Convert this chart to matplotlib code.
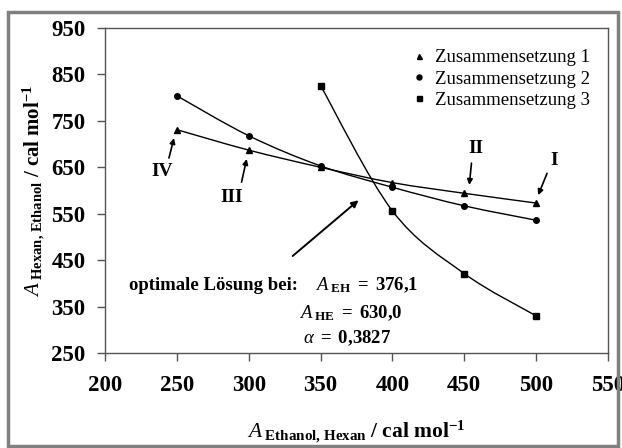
import numpy as np
import matplotlib
matplotlib.use('Agg')
import matplotlib.pyplot as plt
from matplotlib.path import Path
from matplotlib.patches import PathPatch, Rectangle

plt.rcParams['font.family'] = 'Liberation Serif'
plt.rcParams['mathtext.fontset'] = 'custom'
plt.rcParams['mathtext.rm'] = 'Liberation Serif:bold'
plt.rcParams['mathtext.bf'] = 'Liberation Serif:bold'
plt.rcParams['mathtext.it'] = 'Liberation Serif:italic'

# data
x1 = [250, 300, 350, 400, 450, 500]
y1 = [731, 687, 650, 617, 594, 573]
x2 = [250, 300, 350, 400, 450, 500]
y2 = [804, 718, 653, 607, 567, 536]
x3 = [350, 400, 450, 500]
y3 = [826, 556, 421, 330]
labels = ['Zusammensetzung 1', 'Zusammensetzung 2', 'Zusammensetzung 3']
markers = ['^', 'o', 's']


def smooth_path(xs, ys):
    # Excel-like smoothed line as cubic Bezier segments through the points
    P = np.column_stack([xs, ys]).astype(float)
    n = len(P)
    verts = [P[0]]
    codes = [Path.MOVETO]
    for i in range(n - 1):
        p0 = P[i - 1] if i > 0 else P[i]
        p3 = P[i + 2] if i + 2 < n else P[i + 1]
        c1 = P[i] + (P[i + 1] - p0) / 6
        c2 = P[i + 1] - (p3 - P[i]) / 6
        verts += [c1, c2, P[i + 1]]
        codes += [Path.CURVE4] * 3
    return Path(verts, codes)


fig = plt.figure(figsize=(6.22, 4.48), dpi=100)
ax = fig.add_axes([0.1688, 0.212, 0.8087, 0.7255])

for xs, ys, m, lab in zip([x1, x2, x3], [y1, y2, y3], markers, labels):
    ax.add_patch(PathPatch(smooth_path(xs, ys), fill=False, lw=1.0, color='black'))
    ax.plot(xs, ys, ls='none', marker=m, ms=4, color='black', label=lab)

ax.set_xlim(200, 550)
ax.set_ylim(250, 950)
ax.set_xticks(np.arange(200, 551, 50))
ax.set_yticks(np.arange(250, 951, 100))
for t in ax.get_xticklabels() + ax.get_yticklabels():
    t.set_fontweight('bold')
    t.set_fontsize(16.5)
ax.tick_params(direction='out', length=6, width=1, color='#555555')
ax.tick_params(axis='x', pad=10)
ax.tick_params(axis='y', pad=8)
for s in ax.spines.values():
    s.set_color('#555555')
    s.set_linewidth(1.0)

ax.set_xlabel(r'$\mathit{A}_{\ \mathrm{Ethanol{,}\ Hexan}}\ \mathrm{/\ cal\ mol^{-1}}$',
              fontsize=15.5, labelpad=16)
ax.set_ylabel(r'$\mathit{A}_{\ \mathrm{Hexan{,}\ Ethanol}}\ \mathrm{/\ cal\ mol^{-1}}$',
              fontsize=15, labelpad=3)

leg = ax.legend(loc='upper right', bbox_to_anchor=(0.99, 0.975), frameon=False,
                fontsize=13.5, handlelength=0.5, handletextpad=0.6,
                labelspacing=0.22, markerscale=0.9, borderaxespad=0.3)

# roman numerals with arrows
ann = dict(arrowstyle='-|>', color='black', lw=1.2, mutation_scale=8, shrinkA=0, shrinkB=0)
fs_num = 14
ax.text(240, 640, 'IV', ha='center', va='center', fontsize=fs_num, fontweight='bold')
ax.annotate('', xy=(248, 713), xytext=(244.5, 670), arrowprops=ann)
ax.text(288, 586, 'III', ha='center', va='center', fontsize=fs_num, fontweight='bold')
ax.annotate('', xy=(298.6, 668), xytext=(295, 618), arrowprops=ann)
ax.text(458, 691, 'II', ha='center', va='center', fontsize=fs_num, fontweight='bold')
ax.annotate('', xy=(453.5, 612), xytext=(455, 659), arrowprops=ann)
ax.text(512.5, 665, 'I', ha='center', va='center', fontsize=fs_num, fontweight='bold')
ax.annotate('', xy=(501.4, 590), xytext=(507.6, 637), arrowprops=ann)

# arrow to the optimum
big = dict(arrowstyle='-|>', color='black', lw=1.4, mutation_scale=10, shrinkA=0, shrinkB=0)
ax.annotate('', xy=(376.4, 579), xytext=(330.6, 459), arrowprops=big)

ax.text(217, 396, 'optimale Lösung bei:', ha='left', va='center',
        fontsize=13.5, fontweight='bold')
ax.text(346, 396, r'$\mathit{A}_{\ \mathrm{EH}}\ \mathrm{{=}\ 376{,}1}$', ha='left', va='center', fontsize=13.5)
ax.text(335, 336, r'$\mathit{A}_{\ \mathrm{HE}}\ \mathrm{{=}\ 630{,}0}$', ha='left', va='center', fontsize=13.5)
ax.text(338, 282, r'$\mathit{\alpha}\ \mathrm{{=}\ 0{,}3827}$', ha='left', va='center', fontsize=13.5)

# gray outer frame
fig.patches.append(Rectangle((8 / 622, 2 / 448), 610 / 622, 434 / 448,
                             transform=fig.transFigure, fill=False,
                             edgecolor='#808080', lw=2.5))

fig.savefig('out.png', dpi=100)
